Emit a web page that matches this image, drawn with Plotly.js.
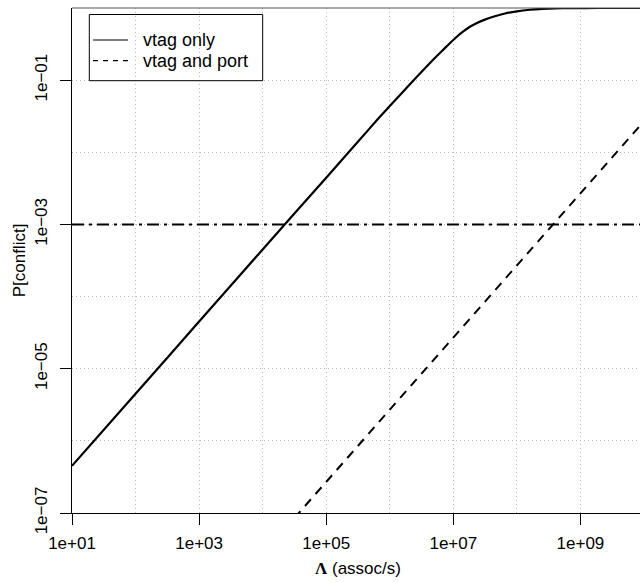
<!DOCTYPE html>
<html>
<head>
<meta charset="utf-8">
<script src="https://cdn.plot.ly/plotly-3.0.1.min.js"></script>
<style>html,body{margin:0;padding:0;overflow:hidden;background:#fff;}</style>
</head>
<body>
<div id="chart"></div>
<script>
// Λ (assoc/s) sample points and read-off probabilities
const lamOnly = [1e1, 1e2, 1e3, 1e4, 1e5, 3e5, 6.6e5, 1e6, 1.5e6, 2.2e6, 3.2e6, 4.6e6, 6.5e6, 8.5e6, 1.1e7, 1.4e7, 1.8e7, 2.4e7, 3.2e7, 4.5e7, 6.5e7, 1e8, 1.6e8, 2.5e8, 4e8, 7e8, 1.2e9, 3e9, 1e10];
const pOnly   = [4.5e-7, 4.5e-6, 4.5e-5, 4.5e-4, 4.45e-3, 1.33e-2, 2.93e-2, 4.38e-2, 6.45e-2, 9.3e-2, 0.132, 0.184, 0.25, 0.315, 0.39, 0.465, 0.545, 0.625, 0.695, 0.77, 0.84, 0.9, 0.945, 0.972, 0.988, 0.996, 0.999, 1, 1];

const lamPort = [1e4, 1e5, 1e6, 1e7, 1e8, 1e9, 1e10];
const pPort   = [2.7e-8, 2.7e-7, 2.7e-6, 2.7e-5, 2.7e-4, 2.65e-3, 2.7e-2];

const lamThresh = [1e1, 1e10];
const pThresh   = [1e-3, 1e-3];

const seriesNames = ["vtag only", "vtag and port"];

const xTickVals = [1e1, 1e3, 1e5, 1e7, 1e9];
const xTickText = ["1e+01", "1e+03", "1e+05", "1e+07", "1e+09"];
const xMinorVals = [1e2, 1e4, 1e6, 1e8, 1e10];
const yTickVals = [1e-7, 1e-5, 1e-3, 1e-1];
const yTickText = ["1e\u221207", "1e\u221205", "1e\u221203", "1e\u221201"];
const yMinorVals = [1e-6, 1e-4, 1e-2, 1e0];

const FONT = "Liberation Sans, Arial, Helvetica, sans-serif";
const GRID = "#b8b8b8";
const DASH = "9px,7px";
const DOTDASH = "12px,5px,3px,5px";

const traces = [
  {x: lamOnly, y: pOnly, type: "scatter", mode: "lines", name: seriesNames[0],
   line: {color: "#000", width: 2.2, shape: "spline", smoothing: 0.6}},
  {x: lamPort, y: pPort, type: "scatter", mode: "lines", name: seriesNames[1],
   line: {color: "#000", width: 2, dash: DASH}},
  {x: lamThresh, y: pThresh, type: "scatter", mode: "lines",
   line: {color: "#000", width: 2, dash: DOTDASH}}
];

// pixel -> paper helpers for the hand-drawn legend box
const L = 72, W = 572, T = 8, H = 505;
const px = v => (v - L) / W;
const py = v => 1 - (v - T) / H;

const layout = {
  width: 660, height: 582,
  margin: {l: L, r: 660 - L - W, t: T, b: 582 - T - H, pad: 0},
  paper_bgcolor: "#fff", plot_bgcolor: "#fff",
  font: {family: FONT, size: 17, color: "#000"},
  showlegend: false,
  xaxis: {type: "log", range: [1, 10], autorange: false, automargin: false,
          tickmode: "array", tickvals: xTickVals, ticktext: xTickText,
          ticks: "outside", ticklen: 11, tickwidth: 1, tickcolor: "#000",
          ticklabelstandoff: 4,
          showline: true, linecolor: "#000", linewidth: 1,
          showgrid: true, gridcolor: GRID, gridwidth: 1, griddash: "1px,3px",
          minor: {tickmode: "array", tickvals: xMinorVals, ticks: "", showgrid: true,
                  gridcolor: GRID, gridwidth: 1, griddash: "1px,3px"},
          zeroline: false,
          tickfont: {family: FONT, size: 17},
          title: {text: "<span style=\"font-family:'Liberation Serif';font-weight:bold\">\u039b</span> (assoc/s)",
                  font: {family: FONT, size: 17}, standoff: 9}},
  yaxis: {type: "log", range: [-7, 0], autorange: false, automargin: false,
          tickmode: "array", tickvals: yTickVals, ticktext: yTickText,
          ticks: "outside", ticklen: 11, tickwidth: 1, tickcolor: "#000", tickangle: -90,
          ticklabelstandoff: 6,
          showline: true, linecolor: "#000", linewidth: 1,
          showgrid: true, gridcolor: GRID, gridwidth: 1, griddash: "1px,3px",
          minor: {tickmode: "array", tickvals: yMinorVals, ticks: "", showgrid: true,
                  gridcolor: GRID, gridwidth: 1, griddash: "1px,3px"},
          zeroline: false,
          tickfont: {family: FONT, size: 17},
          title: {text: "P[conflict]", font: {family: FONT, size: 17}, standoff: 2}},
  shapes: [
    {type: "line", xref: "paper", yref: "paper", x0: 0, x1: 1, y0: 1, y1: 1,
     line: {color: "#555", width: 1}},
    {type: "rect", xref: "paper", yref: "paper", x0: px(89.3), x1: px(262.7), y0: py(80.7), y1: py(14.5),
     line: {color: "#000", width: 1}, fillcolor: "rgba(0,0,0,0)"},
    {type: "line", xref: "paper", yref: "paper", x0: px(93), x1: px(128), y0: py(40), y1: py(40),
     line: {color: "#000", width: 1.2}},
    {type: "line", xref: "paper", yref: "paper", x0: px(93), x1: px(128), y0: py(60.7), y1: py(60.7),
     line: {color: "#000", width: 1.2, dash: "5px,5px"}}
  ],
  annotations: [
    {xref: "paper", yref: "paper", x: px(141), y: py(40), xanchor: "left", yanchor: "middle",
     text: seriesNames[0], showarrow: false, font: {family: FONT, size: 18, color: "#000"}},
    {xref: "paper", yref: "paper", x: px(141), y: py(60.7), xanchor: "left", yanchor: "middle",
     text: seriesNames[1], showarrow: false, font: {family: FONT, size: 18, color: "#000"}}
  ]
};

Plotly.newPlot("chart", traces, layout, {displayModeBar: false, staticPlot: true});
</script>
</body>
</html>
